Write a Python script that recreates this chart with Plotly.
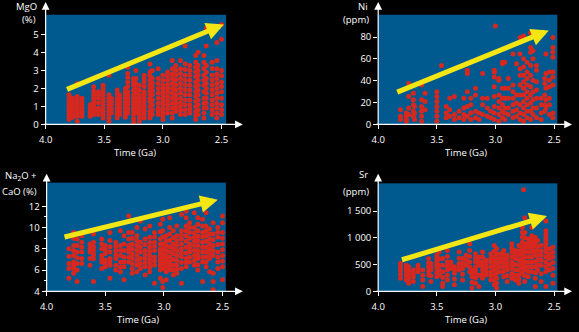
import plotly.graph_objects as go

# ---------------- data ----------------
mgo_age = [3.80, 3.77, 3.73, 3.69, 3.62, 3.59, 3.55, 3.51, 3.46, 3.44, 3.39, 3.37,
           3.32, 3.30, 3.25, 3.23, 3.20, 3.16, 3.11, 3.09, 3.04, 3.00, 2.96, 2.92,
           2.89, 2.85, 2.81, 2.77, 2.72, 2.70, 2.65, 2.63, 2.58, 2.54, 2.50]
mgo_val = [
    [1.64, 1.45, 1.27, 1.1, 1.0, 0.85, 0.73, 0.6, 0.45, 0.27],
    [1.45, 1.27, 1.09, 0.9, 0.73, 0.55, 0.4],
    [2.27, 1.55, 1.35, 1.18, 1.05, 0.91, 0.78, 0.64, 0.45, 0.18],
    [1.45, 1.27, 1.09, 0.9, 0.73, 0.6, 0.45],
    [1.09, 0.9, 0.73, 0.6, 0.45],
    [2.09, 1.85, 1.64, 1.45, 1.27, 1.1, 0.91, 0.73, 0.55],
    [1.82, 1.64, 1.45, 1.2, 0.91, 0.73, 0.55],
    [2.18, 2.0, 1.82, 1.64, 1.45, 1.27, 1.09, 0.9, 0.73, 0.55, 0.36],
    [2.73, 1.64, 1.45, 1.27, 1.1, 0.91, 0.73, 0.55, 0.36, 0.18],
    [1.45, 1.27, 1.09, 0.85, 0.64],
    [1.91, 1.7, 1.45, 1.27, 1.09, 0.9, 0.73, 0.55, 0.36],
    [1.64, 1.45, 1.27, 1.1, 0.91, 0.73, 0.55],
    [2.0, 1.82, 1.64, 1.45, 1.27, 1.1, 0.91, 0.73, 0.55, 0.4],
    [3.18, 2.82, 2.6, 2.36, 2.1, 1.82, 1.64, 1.45, 1.27, 1.09, 0.85, 0.64],
    [2.55, 2.36, 2.18, 1.9, 1.64, 1.45, 1.27, 1.1, 0.91, 0.73, 0.55, 0.3, 0.09],
    [3.0, 2.55, 2.27, 2.0, 1.73, 1.45, 1.27, 1.09, 0.85, 0.64],
    [2.18, 1.9, 1.64, 1.45, 1.27, 1.1, 0.91, 0.73, 0.55, 0.36, 0.18],
    [2.73, 2.55, 2.36, 2.1, 1.82, 1.64, 1.45, 1.27, 1.09, 0.9, 0.73, 0.55, 0.36],
    [3.36, 2.91, 2.7, 2.45, 2.2, 2.0, 1.82, 1.64, 1.45, 1.27, 1.0, 0.73, 0.55, 0.36],
    [3.0, 2.55, 2.3, 2.09, 1.85, 1.64, 1.36, 1.09, 0.82, 0.55],
    [3.09, 2.55, 2.27, 2.0, 1.73, 1.45, 1.18, 0.91, 0.73, 0.55],
    [2.73, 2.45, 2.18, 2.0, 1.82, 1.64, 1.45, 1.27, 1.09, 0.85, 0.64, 0.45, 0.27],
    [2.91, 2.7, 2.45, 2.2, 2.0, 1.78, 1.55, 1.32, 1.09, 0.85, 0.64],
    [3.55, 3.09, 2.8, 2.55, 2.27, 2.0, 1.73, 1.45, 1.18, 0.91, 0.64, 0.36],
    [3.27, 3.0, 2.73, 2.45, 2.18, 1.91, 1.64, 1.4, 1.18, 0.95, 0.73],
    [3.55, 3.09, 2.82, 2.55, 2.27, 2.0, 1.73, 1.45, 1.2, 1.0, 0.78, 0.55],
    [4.36, 3.36, 3.05, 2.73, 2.45, 2.18, 1.91, 1.64, 1.36, 1.09, 0.82, 0.55],
    [3.27, 3.0, 2.73, 2.45, 2.18, 1.91, 1.64, 1.36, 1.09, 0.85, 0.64],
    [3.82, 3.45, 3.18, 2.91, 2.64, 2.36, 2.1, 1.82, 1.55, 1.27, 1.0, 0.73, 0.5, 0.27],
    [4.0, 3.27, 3.0, 2.73, 2.45, 2.18, 1.91, 1.64, 1.36, 1.09, 0.82, 0.55],
    [3.82, 3.45, 3.1, 2.73, 2.45, 2.18, 1.82, 1.45, 1.18, 0.91, 0.64, 0.36],
    [5.36, 4.36, 3.27, 2.9, 2.55, 2.27, 2.0, 1.73, 1.45, 1.18, 0.91],
    [3.45, 3.1, 2.73, 2.45, 2.18, 1.91, 1.64, 1.36, 1.09, 0.82, 0.55],
    [4.55, 3.55, 3.09, 2.8, 2.55, 2.27, 2.0, 1.73, 1.45, 1.18, 0.91, 0.64, 0.36],
    [5.55, 4.73, 3.0, 2.7, 2.36, 2.1, 1.82, 1.45, 1.09, 0.82, 0.55],
]

ni_age = [3.81, 3.76, 3.74, 3.70, 3.69, 3.63, 3.60, 3.50, 3.46, 3.42, 3.39, 3.35,
          3.31, 3.27, 3.24, 3.21, 3.17, 3.14, 3.11, 3.07, 3.04, 3.01, 3.00, 2.97,
          2.94, 2.92, 2.89, 2.85, 2.82, 2.79, 2.76, 2.73, 2.70, 2.68, 2.65, 2.61,
          2.58, 2.57, 2.54, 2.51]
ni_val = [
    [13.5, 7.5, 4.5],
    [10.5, 7.5, 4.5, 3.0],
    [37.5, 25.5, 15, 9],
    [28.5, 22.5, 18, 12, 7.5],
    [16.5, 10.5, 4.5],
    [36, 22.5, 16.5, 12, 7.5, 3],
    [28.5, 21, 13.5],
    [30, 25.5, 21, 16.5, 12, 7.5, 3],
    [54],
    [16.5, 10.5, 6],
    [24, 13.5, 7.5],
    [25.5, 9, 4.5],
    [12, 6],
    [24, 15, 9, 4.5],
    [49.5, 46.5, 30, 16.5, 7.5],
    [24, 18, 10.5, 4.5],
    [33, 27, 12, 6],
    [10.5, 4.5],
    [46.5, 24, 18, 9],
    [24, 15, 7.5],
    [12, 6],
    [49.5, 48, 43.5, 34.5, 25.5, 16.5, 10.5, 4.5],
    [90],
    [42, 40.5, 27, 21, 15, 9, 3],
    [57, 55.5, 33, 24, 18, 12, 6],
    [57, 33, 24, 15, 10.5, 4.5],
    [42, 33, 24, 15, 9],
    [64.5, 36, 30, 24, 18, 12, 6],
    [55.5, 27, 19.5, 13.5, 7.5],
    [79.5, 64.5, 51, 45, 36, 27, 18, 10.5, 4.5],
    [81, 60, 52.5, 45, 39, 33, 27, 21, 15, 9, 3],
    [57, 48, 42, 36, 30, 24, 18, 12, 6],
    [84, 70.5, 66, 54, 45, 34.5, 27, 19.5, 12, 4.5],
    [67.5, 60, 40.5, 30, 22.5, 15, 9],
    [54, 49.5, 39, 31.5, 24, 15, 6],
    [24, 18, 10.5, 4.5],
    [42, 37.5, 27, 18, 12],
    [64.5, 46.5, 33, 22.5, 15],
    [48, 40.5, 34.5, 24, 18, 9],
    [79.5, 70.5, 66, 61.5, 48, 43.5, 36, 10.5, 6],
]

nc_age = [3.81, 3.77, 3.74, 3.70, 3.63, 3.60, 3.53, 3.50, 3.46, 3.41, 3.37, 3.34,
          3.30, 3.27, 3.23, 3.20, 3.16, 3.12, 3.08, 3.03, 3.01, 2.98, 2.95, 2.92,
          2.89, 2.85, 2.81, 2.78, 2.74, 2.71, 2.67, 2.64, 2.61, 2.58, 2.54, 2.50]
nc_val = [
    [8.0, 7.3, 6.62, 6.15, 5.23],
    [9.54, 9.0, 8.31, 7.85, 7.38, 6.77, 6.45, 6.15, 5.69],
    [8.92, 8.3, 7.69, 7.15, 6.62, 6.0, 4.92],
    [9.23, 8.62, 8.15, 7.69, 7.08, 6.62],
    [8.46, 8.05, 7.69, 7.08, 6.46],
    [9.38, 8.62, 8.2, 7.85, 7.45, 7.08, 4.92],
    [8.92, 8.45, 8.0, 7.38, 7.05, 6.77, 6.15],
    [8.31, 7.9, 7.54, 6.92, 6.6, 6.31],
    [9.54, 8.77, 8.2, 7.69, 7.08, 6.75, 6.46, 5.23],
    [8.62, 8.25, 7.85, 7.45, 7.08, 6.46, 6.0],
    [9.69, 8.31, 7.85, 7.38, 6.77, 6.3, 5.85],
    [9.23, 8.46, 7.85, 7.23, 6.75, 6.31, 5.08],
    [11.08, 9.54, 8.92, 8.31, 8.0, 7.69, 7.2, 6.77],
    [9.54, 9.0, 8.46, 8.0, 7.54, 7.1, 6.62, 6.15, 5.69],
    [10.0, 9.23, 8.77, 8.31, 7.85, 7.38, 6.9, 6.46, 5.85],
    [10.62, 8.62, 8.15, 7.69, 7.08, 6.6, 6.15],
    [9.85, 8.92, 8.4, 7.85, 7.45, 7.08, 6.7, 6.31, 5.54],
    [10.15, 9.08, 8.6, 8.15, 7.75, 7.38, 7.0, 6.62, 6.25, 5.85],
    [9.54, 9.1, 8.62, 8.25, 7.85, 7.23, 6.85, 6.46, 4.77],
    [10.31, 9.6, 8.92, 8.45, 8.0, 7.7, 7.38, 7.05, 6.77, 6.4, 6.0, 5.23],
    [10.77, 9.69, 9.1, 8.46, 8.0, 7.54, 7.2, 6.92, 6.55, 6.15, 4.92, 4.37],
    [9.23, 8.75, 8.31, 7.85, 7.38, 7.0, 6.62, 6.25, 5.85, 5.08],
    [10.92, 10.0, 9.4, 8.77, 8.2, 7.69, 7.2, 6.77, 6.4, 6.0],
    [9.69, 9.05, 8.46, 8.0, 7.54, 7.0, 6.46, 6.0, 5.54],
    [10.15, 9.23, 8.75, 8.31, 7.85, 7.38, 6.9, 6.46, 6.05, 5.69],
    [11.23, 9.69, 9.3, 8.92, 8.45, 8.0, 7.6, 7.23, 6.7, 6.15, 4.77],
    [11.54, 10.92, 10.15, 9.7, 9.23, 8.7, 8.15, 7.6, 7.08, 6.7, 6.31],
    [10.46, 10.0, 9.54, 9.0, 8.46, 8.05, 7.69, 7.2, 6.77],
    [11.38, 10.0, 9.5, 9.08, 8.7, 8.31, 7.85, 7.38, 6.9, 6.46],
    [10.92, 10.3, 9.69, 9.2, 8.77, 8.3, 7.85, 7.45, 7.08, 6.5, 6.0],
    [10.77, 10.15, 9.54, 9.1, 8.62, 8.15, 7.69, 7.2, 6.77, 4.92],
    [11.38, 10.15, 9.7, 9.23, 8.7, 8.15, 7.7, 7.23, 6.75, 6.31],
    [9.85, 9.4, 8.92, 8.45, 8.0, 7.55, 7.08, 5.85],
    [10.46, 9.38, 8.85, 8.31, 7.85, 7.38, 5.69, 4.92, 4.15],
    [10.0, 9.55, 9.08, 8.4, 7.69, 7.2, 6.77, 6.15],
    [11.08, 10.46, 9.54, 9.0, 8.46, 7.9, 7.38, 6.85, 6.31, 5.08],
]

sr_age = [3.81, 3.76, 3.74, 3.70, 3.66, 3.62, 3.57, 3.55, 3.50, 3.48, 3.45, 3.41,
          3.38, 3.35, 3.31, 3.28, 3.25, 3.22, 3.20, 3.17, 3.14, 3.11, 3.08, 3.04,
          3.01, 2.99, 2.96, 2.93, 2.90, 2.86, 2.83, 2.80, 2.77, 2.76, 2.75, 2.72,
          2.69, 2.66, 2.64, 2.61, 2.57, 2.54, 2.51]
sr_val = [
    [520, 460, 400, 320, 245],
    [490, 430, 367, 290, 214],
    [459, 380, 306, 230, 153],
    [398, 340, 275, 184],
    [490, 430, 367],
    [398, 300, 214, 92],
    [612, 530, 459, 380, 306],
    [520, 460, 398, 290, 184],
    [673, 612, 551, 490, 429, 350, 275],
    [735, 610, 490, 400, 306],
    [612, 490, 367, 260, 153, 92],
    [765, 650, 551, 470, 398, 300, 214],
    [551, 490, 429],
    [459, 400, 337, 230, 122],
    [735, 620, 520, 460, 398],
    [612, 520, 429, 320, 214],
    [673, 580, 490],
    [888, 765, 650, 551, 460, 367],
    [398, 340, 275, 170, 61],
    [704, 620, 551, 459, 400, 337, 250, 153],
    [643, 560, 490, 300, 92],
    [735, 640, 551, 470, 398, 320, 245],
    [582, 500, 429, 360, 306],
    [704, 620, 551, 460, 367, 290, 214],
    [857, 750, 643, 560, 490, 400, 306, 210, 122],
    [796, 700, 612, 520, 429, 340, 245, 150, 61],
    [704, 620, 551, 460, 367],
    [765, 690, 612, 540, 459, 370, 275],
    [673, 600, 520, 460, 398, 290, 184],
    [888, 810, 735, 640, 551, 490, 429, 330, 245],
    [765, 690, 612, 500, 398, 300, 214],
    [857, 760, 673, 580, 490, 400, 306, 230, 153],
    [1194, 1100, 1010, 920, 826, 750, 673, 600, 520, 430, 337],
    [1898],
    [1377, 1102, 1000, 888, 810, 735, 640, 551, 470, 398, 290, 184],
    [980, 900, 826, 730, 643, 550, 459, 370, 275],
    [1194, 1041, 960, 888, 810, 735, 640, 551, 460, 367],
    [1010, 930, 857, 760, 673, 560, 459, 350, 245, 92],
    [949, 850, 765, 670, 582, 490, 398],
    [857, 760, 673, 580, 490, 330, 184],
    [1316, 1133, 1070, 1010, 950, 888, 810, 735, 640, 551, 460, 367, 92],
    [796, 700, 612, 500, 398],
    [826, 730, 643, 540, 429, 300, 153],
]

# trend arrows: (tail age, tail value, head age, head value)
mgo_trend = [3.83, 1.91, 2.48, 5.55]
ni_trend = [3.85, 29.0, 2.545, 86.0]
nc_trend = [3.86, 9.08, 2.54, 12.6]
sr_trend = [3.81, 582, 2.56, 1408]

x_ticks = [4.0, 3.5, 3.0, 2.5]
x_tick_text = ["4.0", "3.5", "3.0", "2.5"]
sr_ticks = [0, 500, 1000, 1500]
sr_tick_text = ["0", "500", "1 000", "1 500"]

# ---------------- styling ----------------
W, H = 579, 332
BG = "#000000"
PANEL = "#005a8f"
RED = "#d7281f"
YELLOW = "#f4e514"
WHITE = "#ffffff"
FONT = "Open Sans"
FS = 9.5


def flat(ages, vals):
    xs, ys = [], []
    for a, col in zip(ages, vals):
        for v in col:
            xs.append(a)
            ys.append(v)
    return xs, ys


def fx(p):
    return p / W


def fy(p):
    return 1 - p / H


fig = go.Figure()

panels = [
    # name, ages, vals, trend, x px left, x px right, y px bottom, y px top, y range
    ("", mgo_age, mgo_val, mgo_trend, 39.3, 223.0, 126.7, 15.0, [0, 6.09]),
    ("2", ni_age, ni_val, ni_trend, 377.7, 560.0, 126.7, 15.0, [0, 100.4]),
    ("3", nc_age, nc_val, nc_trend, 40.3, 222.7, 296.7, 186.0, [4, 14.22]),
    ("4", sr_age, sr_val, sr_trend, 377.7, 560.0, 296.7, 186.7, [0, 2020]),
]

annotations = []
for name, ages, vals, trend, xl, xr, yb, yt, yr in panels:
    xs, ys = flat(ages, vals)
    fig.add_trace(go.Scatter(
        x=xs, y=ys, mode="markers", xaxis="x" + name, yaxis="y" + name,
        marker=dict(size=5, color=RED, line=dict(width=0)),
        hoverinfo="skip", showlegend=False,
    ))
    pxper = 179.0 / 1.5
    xmax_age = 2.5 - (xr - (xl + 179.0)) / pxper
    xa = dict(
        domain=[fx(xl), fx(xr)], range=[4.0, xmax_age], anchor="y" + name,
        showgrid=False, zeroline=False, showline=False,
        ticks="outside", ticklen=4, tickwidth=1, tickcolor=WHITE,
        tickvals=x_ticks, ticktext=x_tick_text, ticklabelstandoff=2,
        tickfont=dict(family=FONT, size=FS, color=WHITE),
    )
    ya = dict(
        domain=[fy(yb), fy(yt)], range=yr, anchor="x" + name,
        showgrid=False, zeroline=False, showline=False,
        ticks="outside", ticklen=4, tickwidth=1, tickcolor=WHITE,
        tickfont=dict(family=FONT, size=FS, color=WHITE),
    )
    fig.update_layout(**{"xaxis" + name: xa, "yaxis" + name: ya})

    annotations.append(dict(
        xref="x" + name, yref="y" + name, axref="x" + name, ayref="y" + name,
        x=trend[2], y=trend[3], ax=trend[0], ay=trend[1], text="",
        showarrow=True, arrowhead=2, arrowsize=0.7, arrowwidth=5,
        arrowcolor=YELLOW, standoff=0,
    ))

fig.update_layout(
    yaxis=dict(tickvals=[0, 1, 2, 3, 4, 5]),
    yaxis2=dict(tickvals=[0, 20, 40, 60, 80]),
    yaxis3=dict(tickvals=[4, 6, 8, 10, 12],
                minor=dict(tickvals=[5, 7, 9, 11], ticks="outside", ticklen=2,
                           tickcolor=WHITE, tickwidth=1)),
    yaxis4=dict(tickvals=sr_ticks, ticktext=sr_tick_text),
)

axis_arrows = [
    (240, 126.7, -(240 - 39.3), 0), (39.3, 2, 0, 124.7),
    (575, 126.7, -(575 - 377.7), 0), (377.7, 2, 0, 124.7),
    (240, 296.7, -(240 - 40.3), 0), (40.3, 177, 0, 119.7),
    (575, 296.7, -(575 - 377.7), 0), (377.7, 177, 0, 119.7),
]
for hx, hy, ax, ay in axis_arrows:
    annotations.append(dict(
        xref="paper", yref="paper", x=fx(hx), y=fy(hy), ax=ax, ay=ay,
        axref="pixel", ayref="pixel", text="", showarrow=True,
        arrowhead=2, arrowsize=1.3, arrowwidth=1.2, arrowcolor=WHITE, standoff=0,
    ))

labels = [
    ("MgO", 33, 7, "right"), ("(%)", 32, 20, "right"),
    ("Ni", 369, 7, "right"), ("(ppm)", 370, 20, "right"),
    ("Na<sub>2</sub>O +", 33, 179, "right"), ("CaO (%)", 33, 195, "right"),
    ("Sr", 369, 178, "right"), ("(ppm)", 370, 195, "right"),
    ("Time (Ga)", 130, 155, "center"), ("Time (Ga)", 467, 155, "center"),
    ("Time (Ga)", 133, 325, "center"), ("Time (Ga)", 467, 325, "center"),
]
for txt, x, y, anc in labels:
    annotations.append(dict(
        xref="paper", yref="paper", x=fx(x), y=fy(y), text=txt,
        showarrow=False, xanchor=anc, yanchor="middle",
        font=dict(family=FONT, size=FS, color=WHITE),
    ))

fig.update_layout(
    width=W, height=H, margin=dict(l=0, r=0, t=0, b=0),
    paper_bgcolor=BG, plot_bgcolor=PANEL, showlegend=False,
    annotations=annotations, hovermode=False,
)

fig.write_html(
    "out.html",
    config={"displayModeBar": False, "staticPlot": True},
    post_script=(
        "var d=document.getElementById('{plot_id}');"
        "d.style.position='fixed';d.style.left='0px';d.style.top='0px';"
        "document.body.style.margin='0';"
        "document.body.style.background='#000';"
        "document.body.style.overflow='hidden';"
        "document.documentElement.style.overflow='hidden';"
    ),
)
